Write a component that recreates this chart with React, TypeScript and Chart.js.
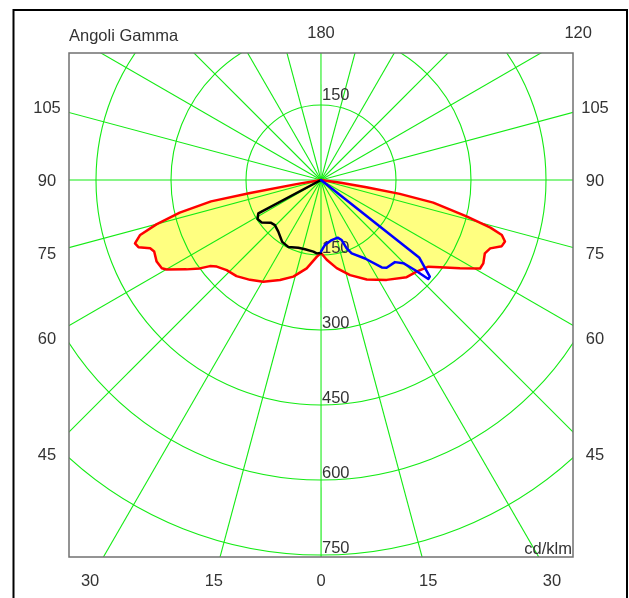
import { useEffect, useRef } from 'react';
import { Chart, registerables } from 'chart.js';

Chart.register(...registerables);

// Gamma angles in degrees (0 = nadir). Negative gamma = left half of the diagram.
// C0-C180 plane (red, yellow filled)
const redGamma = [-90, -80.5, -79.6, -79.0, -77.0, -74.9, -73.1, -71.2, -69.8, -68.2, -66.8, -63.6, -61.0, -59.9, -56.4, -53.9, -52.2, -50.3, -46.3, -41.3, -35.4, -29.6, -22.3, -16.0, -9.2, -3.2, 0, 4.1, 10.1, 17.0, 24.7, 33.3, 41.4, 46.2, 51.1, 53.7, 57.6, 60.9, 62.8, 65.9, 68.0, 69.9, 71.5, 73.1, 74.3, 76.0, 78.6, 80.0, 81.0, 82.0, 90];
const redIntensity = [0, 50, 144, 224, 290, 341, 378, 393, 389, 368, 363, 367, 364, 357, 323, 300, 281, 271, 261, 256, 245, 234, 216, 201, 179, 154, 146, 160, 179, 199, 219, 239, 259, 265, 276, 295, 329, 364, 365, 359, 365, 385, 388, 378, 352, 300, 229, 160, 92, 40, 0];

// C90 plane (black, left half)
const blackGamma = [0, -3.4, -6.1, -13.0, -18.5, -26.1, -32.1, -39.6, -45.6, -49.7, -54.5, -58.4, -62.0, -62.5];
const blackIntensity = [146, 147, 144, 142, 143, 149, 146, 134, 129, 132, 146, 149, 142, 0];

// C270 plane (blue, right half)
const blueGamma = [0, 3.5, 10.1, 16.1, 19.0, 20.6, 22.7, 29.3, 34.8, 36.8, 42.0, 44.7, 46.2, 47.3, 48.4, 51.7, 90];
const blueIntensity = [143, 130, 122, 120, 127, 146, 159, 180, 213, 219, 221, 234, 260, 292, 291, 250, 0];

// Grid / tick definitions
const ringValues = [150, 300, 450, 600, 750];
const topRingLabel = 150;
const spokeStepDeg = 15;
const sideTickGammas = [105, 90, 75, 60, 45];
const bottomTickGammas = [-30, -15, 0, 15, 30];
const topTickGammas = [180, 120];
const titleText = 'Angoli Gamma';
const unitText = 'cd/klm';

const X_MIN = -504, X_MAX = 504, Y_MIN = -754, Y_MAX = 254;
const SIDE_LABEL_DIST = 548;
const BOTTOM_LABEL_DIST = 800;
const TOP_LABEL_DIST = 297;

const GREEN = 'rgb(20,235,20)';
const TEXT = '#333333';
const FONT = '16.5px "Liberation Sans", Arial, sans-serif';

const rad = (g: number) => (g * Math.PI) / 180;
const toXY = (g: number, I: number) => ({ x: I * Math.sin(rad(g)), y: -I * Math.cos(rad(g)) });
const toPoints = (gs: number[], is: number[]) => gs.map((g, i) => toXY(g, is[i]));

const polarPlugin = {
  id: 'polarGrid',
  beforeDraw(chart: any) {
    const { ctx, width, height } = chart;
    ctx.save();
    ctx.fillStyle = '#ffffff';
    ctx.fillRect(0, 0, width, height);
    ctx.restore();
  },
  afterDatasetDraw(chart: any, args: any) {
    if (args.index !== 0) return;
    const { ctx, chartArea: a, scales } = chart;
    const xs = scales.x, ys = scales.y;
    const cx = xs.getPixelForValue(0);
    const cy = ys.getPixelForValue(0);
    const ppu = xs.getPixelForValue(1) - cx;
    ctx.save();
    ctx.beginPath();
    ctx.rect(a.left, a.top, a.right - a.left, a.bottom - a.top);
    ctx.clip();
    ctx.setLineDash([]);
    ctx.globalAlpha = 1;
    ctx.strokeStyle = GREEN;
    ctx.lineWidth = 1.1;
    ringValues.forEach((r) => {
      ctx.beginPath();
      ctx.arc(cx, cy, r * ppu, 0, Math.PI * 2);
      ctx.stroke();
    });
    for (let g = 0; g < 360; g += spokeStepDeg) {
      const p = toXY(g + 0.01, 1100);
      ctx.beginPath();
      ctx.moveTo(cx, cy);
      ctx.lineTo(xs.getPixelForValue(p.x), ys.getPixelForValue(p.y));
      ctx.strokeStyle = GREEN;
      ctx.stroke();
    }
    ctx.fillStyle = GREEN;
    ctx.beginPath();
    ctx.arc(cx, cy, 3.5, 0, Math.PI * 2);
    ctx.fill();
    // ring labels
    ctx.fillStyle = TEXT;
    ctx.font = FONT;
    ctx.textAlign = 'left';
    ctx.textBaseline = 'alphabetic';
    ctx.fillText(String(topRingLabel), cx + 1, ys.getPixelForValue(topRingLabel) - 5);
    ringValues.forEach((r) => {
      ctx.fillText(String(r), cx + 1, ys.getPixelForValue(-r) - 2);
    });
    ctx.restore();
  },
  afterDraw(chart: any) {
    const { ctx, chartArea: a, scales } = chart;
    const xs = scales.x, ys = scales.y;
    ctx.save();
    // plot box
    ctx.strokeStyle = '#707070';
    ctx.lineWidth = 1.5;
    ctx.strokeRect(a.left, a.top, a.right - a.left, a.bottom - a.top);
    // outer frame
    ctx.strokeStyle = '#000000';
    ctx.lineWidth = 2;
    ctx.strokeRect(13.5, 10, 613.5, 640);
    ctx.fillStyle = TEXT;
    ctx.font = FONT;
    ctx.textBaseline = 'alphabetic';
    // title
    ctx.textAlign = 'left';
    ctx.fillText(titleText, a.left, a.top - 12);
    ctx.textAlign = 'center';
    // side labels
    sideTickGammas.forEach((g) => {
      const yv = -SIDE_LABEL_DIST / Math.tan(rad(g));
      const py = ys.getPixelForValue(yv) + 6;
      ctx.fillText(String(g), xs.getPixelForValue(-SIDE_LABEL_DIST), py);
      ctx.fillText(String(g), xs.getPixelForValue(SIDE_LABEL_DIST), py);
    });
    // bottom labels
    bottomTickGammas.forEach((g) => {
      const xv = BOTTOM_LABEL_DIST * Math.tan(rad(g));
      ctx.fillText(String(Math.abs(g)), xs.getPixelForValue(xv), ys.getPixelForValue(-BOTTOM_LABEL_DIST) + 6);
    });
    // top labels
    topTickGammas.forEach((g) => {
      const xv = TOP_LABEL_DIST * Math.tan(rad(180 - g));
      ctx.fillText(String(g), xs.getPixelForValue(xv), ys.getPixelForValue(TOP_LABEL_DIST) + 6);
    });
    // unit
    ctx.textAlign = 'right';
    ctx.fillText(unitText, a.right - 1, a.bottom - 3);
    ctx.restore();
  },
};

export default function App() {
  const ref = useRef<HTMLCanvasElement | null>(null);
  useEffect(() => {
    if (!ref.current) return;
    const redPts = toPoints(redGamma, redIntensity);
    const chart = new Chart(ref.current, {
      type: 'line',
      data: {
        datasets: [
          {
            label: 'fill',
            data: redPts,
            borderColor: 'rgba(0,0,0,0)',
            borderWidth: 1,
            backgroundColor: '#ffff80',
            fill: 'shape',
            pointRadius: 0,
            tension: 0,
            order: 4,
          },
          {
            label: 'C0-C180',
            data: redPts,
            borderColor: '#ff0000',
            borderWidth: 2.5,
            fill: false,
            pointRadius: 0,
            tension: 0,
            order: 3,
          },
          {
            label: 'C90',
            data: toPoints(blackGamma, blackIntensity),
            borderColor: '#000000',
            borderWidth: 2.5,
            fill: false,
            pointRadius: 0,
            tension: 0,
            order: 2,
          },
          {
            label: 'C270',
            data: toPoints(blueGamma, blueIntensity),
            borderColor: '#0000ff',
            borderWidth: 2.5,
            fill: false,
            pointRadius: 0,
            tension: 0,
            order: 1,
          },
        ],
      },
      options: {
        responsive: false,
        animation: false,
        devicePixelRatio: 1,
        layout: { padding: { left: 69, top: 53, right: 56, bottom: 41 } },
        scales: {
          x: { type: 'linear', min: X_MIN, max: X_MAX, display: false },
          y: { type: 'linear', min: Y_MIN, max: Y_MAX, display: false },
        },
        plugins: { legend: { display: false }, tooltip: { enabled: false } },
        elements: { line: { borderJoinStyle: 'round', borderCapStyle: 'round' } },
      },
      plugins: [polarPlugin],
    } as any);
    return () => chart.destroy();
  }, []);
  return (
    <div style={{ position: 'fixed', left: 0, top: 0, width: 629, height: 598, background: '#fff' }}>
      <canvas ref={ref} width={629} height={598} style={{ display: 'block' }} />
    </div>
  );
}
